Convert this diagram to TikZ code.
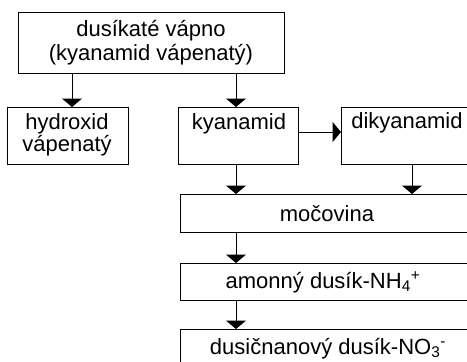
\documentclass[tikz,border=0pt]{standalone}
\usepackage{fontspec}
\setmainfont{Liberation Sans}
\usetikzlibrary{arrows.meta}
\begin{document}
\begin{tikzpicture}[x=1pt,y=-1pt,
  box/.style={draw,line width=1pt,rectangle,inner sep=0pt,anchor=north west},
  txt/.style={inner sep=0pt,anchor=base,font=\fontsize{22}{24}\selectfont},
  arr/.style={line width=1pt,-{Triangle[width=20pt,length=8.5pt]}}]
\useasboundingbox (0,0) rectangle (467,362);
\clip (0,0) rectangle (467,362);
\fill[white] (0,0) rectangle (467,362);
% boxes
\node[box,minimum width=266pt,minimum height=61pt] (top) at (18,12) {};
\node[box,minimum width=121pt,minimum height=57pt] (hyd) at (7,107) {};
\node[box,minimum width=120pt,minimum height=57pt] (kya) at (178,107) {};
\node[box,minimum width=133pt,minimum height=57pt] (dik) at (341,107) {};
\node[box,minimum width=294pt,minimum height=38pt] (moc) at (180,194) {};
\node[box,minimum width=294pt,minimum height=37pt] (amo) at (180,263) {};
\node[box,minimum width=294pt,minimum height=45pt] (dus) at (180,329) {};
% texts
\node[txt] (t1) at (151,36) {dusíkaté vápno};
\node[txt] (t2) at (151,60) {(kyanamid vápenatý)};
\node[txt] (t3) at (67,129) {hydroxid};
\node[txt] (t4) at (67,151) {vápenatý};
\node[txt] (t5) at (239,129) {kyanamid};
\node[txt] (t6) at (407,128) {dikyanamid};
\node[txt] (t7) at (327,221) {močovina};
\node[txt] (t8) at (323,288) {amonný dusík-NH\textsubscript{4}\textsuperscript{+}};
\node[txt] (t9) at (328,354) {dusičnanový dusík-NO\textsubscript{3}\textsuperscript{-}};
% connector guides
\coordinate (xL) at (72,0);
\coordinate (xM) at (236,0);
\coordinate (xR) at (412,0);
\coordinate (yH) at (0,132);
% connectors
\draw[arr] (top.south -| xL) -- (hyd.north -| xL);
\draw[arr] (top.south -| xM) -- (kya.north -| xM);
\draw[arr] (kya.east |- yH) -- (dik.west |- yH);
\draw[arr] (kya.south -| xM) -- (moc.north -| xM);
\draw[arr] (dik.south -| xR) -- (moc.north -| xR);
\draw[arr] (moc.south -| xM) -- (amo.north -| xM);
\draw[arr] (amo.south -| xM) -- (dus.north -| xM);
\end{tikzpicture}
\end{document}
